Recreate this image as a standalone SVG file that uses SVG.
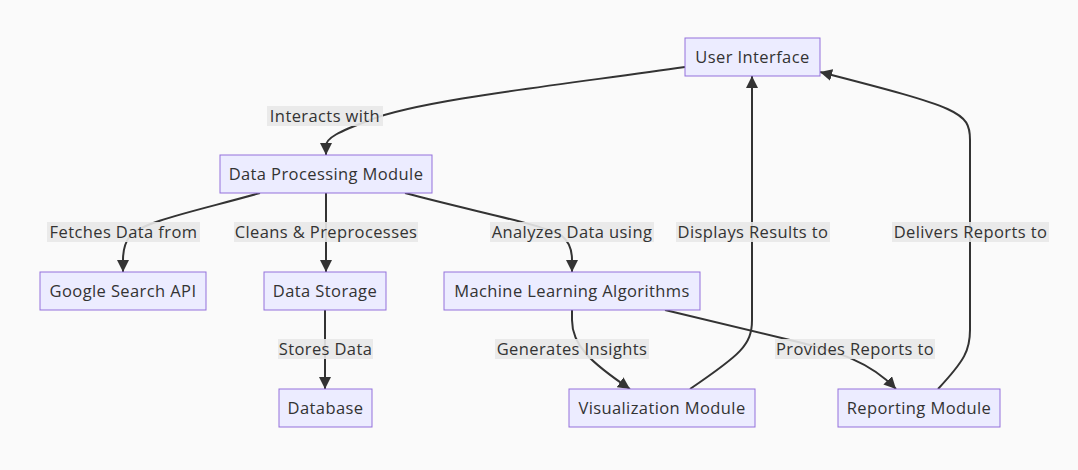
<svg xmlns="http://www.w3.org/2000/svg" width="1078" height="470" viewBox="0 0 1078 470">
<defs>
<style>
.node rect{fill:#ECECFF;stroke:#9370DB;stroke-width:1}
.node text,.lbl text{font-family:"Open Sans","DejaVu Sans",sans-serif;font-size:16.5px;letter-spacing:0.4px;fill:#333;text-anchor:middle;dominant-baseline:central;transform:translateY(-1px)}
.edge{fill:none;stroke:#333;stroke-width:2}
.lbl rect{fill:#e8e8e8;opacity:0.9}
</style>
<marker id="arr" viewBox="0 0 10 10" refX="10" refY="5" markerWidth="12" markerHeight="12" markerUnits="userSpaceOnUse" orient="auto">
<path d="M0,0 L10,5 L0,10 z" fill="#333"/>
</marker>
</defs>
<rect width="1078" height="470" fill="#fafafa"/>
<g id="connectors">
<path class="edge" marker-end="url(#arr)" d="M685,67 C560,85 420,100 370,120 C338,132 326,138 326,146 L326,155"/>
<path class="edge" marker-end="url(#arr)" d="M260,193 C200,210 140,222 130,236 Q123,245 123,260 L123,272"/>
<path class="edge" marker-end="url(#arr)" d="M326,193 L326,272"/>
<path class="edge" marker-end="url(#arr)" d="M405,193 C480,213 545,225 562,236 Q572,244 572,260 L572,272"/>
<path class="edge" marker-end="url(#arr)" d="M325,310 L325,389"/>
<path class="edge" marker-end="url(#arr)" d="M572,310 L572,320 C572,345 590,362 630,389"/>
<path class="edge" marker-end="url(#arr)" d="M665,310 L790,340 C840,352 870,362 896,389"/>
<path class="edge" marker-end="url(#arr)" d="M690,389 C740,355 752,345 752,320 L752,76"/>
<path class="edge" marker-end="url(#arr)" d="M938,389 C965,360 970,350 970,330 L970,140 C970,112 960,108 820,72"/>
</g>
<g id="labels">
<g class="lbl"><rect x="267" y="106" width="116" height="20"/><text x="325" y="116">Interacts with</text></g>
<g class="lbl"><rect x="47" y="222" width="153" height="20"/><text x="123.5" y="232">Fetches Data from</text></g>
<g class="lbl"><rect x="234" y="222" width="184" height="20"/><text x="326" y="232">Cleans &amp; Preprocesses</text></g>
<g class="lbl"><rect x="490" y="222" width="164" height="20"/><text x="572" y="232">Analyzes Data using</text></g>
<g class="lbl"><rect x="676" y="222" width="154" height="20"/><text x="753" y="232">Displays Results to</text></g>
<g class="lbl"><rect x="892" y="222" width="157" height="20"/><text x="970.5" y="232">Delivers Reports to</text></g>
<g class="lbl"><rect x="278" y="339" width="95" height="20"/><text x="325.5" y="349">Stores Data</text></g>
<g class="lbl"><rect x="495" y="339" width="154" height="20"/><text x="572" y="349">Generates Insights</text></g>
<g class="lbl"><rect x="775" y="339" width="160" height="20"/><text x="855" y="349">Provides Reports to</text></g>
</g>
<g id="ui" class="node"><rect x="685" y="38" width="135" height="38"/><text x="752.5" y="57">User Interface</text></g>
<g id="dpm" class="node"><rect x="220" y="155" width="212" height="38"/><text x="326" y="174">Data Processing Module</text></g>
<g id="gsa" class="node"><rect x="40" y="272" width="166" height="38"/><text x="123" y="291">Google Search API</text></g>
<g id="ds" class="node"><rect x="264" y="272" width="122" height="38"/><text x="325" y="291">Data Storage</text></g>
<g id="ml" class="node"><rect x="444" y="272" width="256" height="38"/><text x="572" y="291">Machine Learning Algorithms</text></g>
<g id="db" class="node"><rect x="279" y="389" width="93" height="38"/><text x="325.5" y="408">Database</text></g>
<g id="vis" class="node"><rect x="569" y="389" width="186" height="38"/><text x="662" y="408">Visualization Module</text></g>
<g id="rep" class="node"><rect x="838" y="389" width="162" height="38"/><text x="919" y="408">Reporting Module</text></g>
</svg>
